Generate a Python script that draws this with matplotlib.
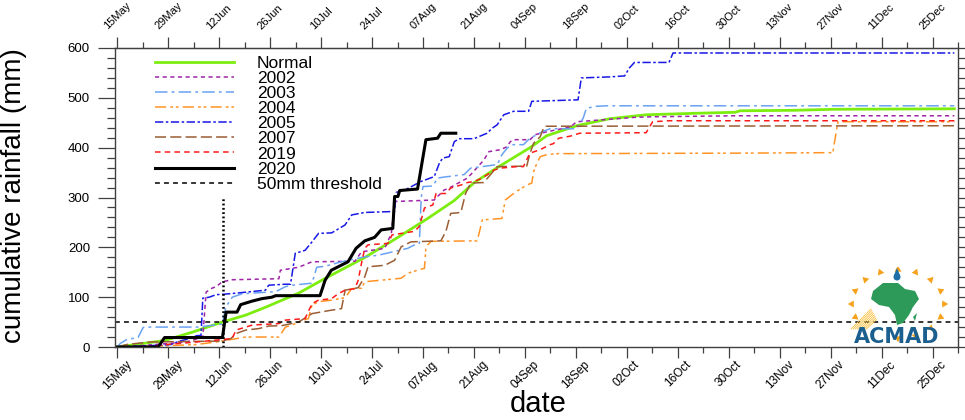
import numpy as np
import pandas as pd
import matplotlib
matplotlib.use('Agg')
import matplotlib.pyplot as plt
import matplotlib.dates as mdates
from matplotlib.patches import Polygon, Circle

plt.rcParams['font.family'] = ['Liberation Sans', 'DejaVu Sans']
plt.rcParams['lines.scale_dashes'] = False

BASE = pd.Timestamp('2020-05-15')

# ---------------- data (day offsets from 15 May, cumulative mm) ----------------
tick_labels = ['15May', '29May', '12Jun', '26Jun', '10Jul', '24Jul', '07Aug', '21Aug',
               '04Sep', '18Sep', '02Oct', '16Oct', '30Oct', '13Nov', '27Nov', '11Dec', '25Dec']
tick_days = [0, 14, 28, 42, 56, 70, 84, 98, 112, 126, 140, 154, 168, 182, 196, 210, 224]
y_ticks = [0, 100, 200, 300, 400, 500, 600]

normal_days = [0, 13, 20.7, 28.9, 35.3, 40.8, 49.8, 57.2, 68.1, 77.1, 85.3, 92.6, 98.1, 104.4,
               113.4, 118, 126.2, 135.2, 145.3, 158.9, 169.8, 171.1, 186.2, 197.1, 230]
normal_vals = [0, 13, 30, 50, 64, 80, 108, 138, 180, 220, 258, 294, 330, 360,
               400, 424, 444, 458, 466, 469, 471, 474, 475, 477, 478]

y2002_days = [0, 7, 19, 23.5, 24.4, 25.7, 27.1, 28.9, 31.6, 44.4, 44.8, 49.8, 53.5, 65.3, 67.1,
              73.5, 75.3, 76.2, 87.1, 88, 89.8, 91.2, 96.2, 97.5, 100.7, 102.1, 105.3, 107.1, 108,
              108.9, 113.4, 114.8, 117.5, 120.7, 124.4, 126.2, 133.5, 142.5, 147.1, 169.8, 230]
y2002_vals = [0, 3, 10, 20, 110, 117, 121, 131, 135, 137, 154, 160, 171, 172, 191,
              198, 228, 292, 295, 302, 315, 319, 339, 349, 375, 392, 396, 402, 412,
              416, 416, 426, 431, 436, 441, 452, 456, 461, 462, 464, 464]

y2003_days = [0, 0.8, 2.6, 5.7, 7.1, 8, 22.1, 28.9, 29.8, 31.6, 34.4, 43.5, 46.2, 48, 53.5, 54.8,
              57.1, 61.6, 68, 71.6, 79.8, 82.5, 83, 83.5, 84, 86.7, 88, 89.8, 95.3, 97.1, 104.4,
              105.7, 107.1, 108.5, 111.6, 113.4, 117.1, 118.9, 126.2, 128, 128.9, 131.6, 134.4, 230]
y2003_vals = [0, 7, 15, 19, 39, 40, 40, 46, 80, 100, 107, 111, 121, 124, 128, 160,
              162, 171, 181, 184, 198, 208, 208, 300, 322, 323, 339, 341, 346, 359, 366,
              386, 399, 406, 406, 419, 433, 438, 438, 459, 479, 483, 484, 484]

y2004_days = [0, 15, 21.7, 27.1, 35.3, 44.4, 46.2, 48, 49.8, 52.5, 53.5, 55.3, 58.9, 62.6, 64.4,
              67.1, 68, 75.3, 78, 79.8, 82.5, 84.4, 84.8, 86.2, 98.9, 100.3, 105.7, 106.6, 108.9,
              110.3, 112.5, 113.9, 114.4, 115.3, 116.2, 118, 120.7, 169.8, 196.6, 198, 230]
y2004_vals = [0, 3, 5, 10, 20, 20, 40, 44, 50, 57, 84, 91, 94, 99, 117,
              118, 131, 136, 138, 148, 154, 158, 201, 212, 213, 255, 258, 295, 308,
              315, 325, 329, 352, 369, 382, 386, 388, 389, 390, 452, 452]

y2005_days = [0, 10, 14.8, 17.1, 18.9, 20.3, 22.1, 23, 23.5, 25.3, 27.1, 29.4, 32.6, 40.7, 41.6,
              46.2, 47.6, 48.9, 51.6, 53.5, 55.3, 58.9, 62.6, 64.4, 68, 76.2, 76.6, 79.8, 83.4,
              87.1, 88.5, 89.4, 91.2, 92.6, 93.9, 98, 101.6, 103, 104.4, 106.2, 108.9, 113, 113.9,
              126.6, 127.5, 135.3, 139.4, 140.7, 142.1, 151.6, 152.7, 230]
y2005_vals = [0, 3, 5, 12, 15, 20, 23, 23, 98, 100, 105, 106, 108, 114, 124,
              126, 126, 188, 194, 211, 228, 229, 245, 265, 270, 272, 310, 318, 332,
              342, 369, 379, 382, 412, 418, 418, 429, 439, 446, 466, 473, 473, 493,
              496, 540, 542, 544, 560, 571, 571, 590, 590]

y2007_days = [0, 2.6, 8.9, 28.9, 31.2, 32.6, 35.3, 38.9, 41.6, 45.3, 49.8, 53.5, 58.9, 61.6, 62.6,
              66.2, 68, 68.9, 73.5, 76.2, 78, 80.7, 88.9, 90.3, 91.6, 94.4, 95.7, 97.1, 100.7,
              104.4, 112.5, 113.4, 114.4, 116.2, 117.1, 117.5, 230]
y2007_vals = [0, 5, 10, 12, 17, 27, 34, 37, 42, 43, 50, 67, 74, 77, 114,
              119, 141, 161, 164, 174, 201, 211, 213, 232, 268, 270, 308, 329, 330,
              362, 363, 389, 409, 422, 439, 443, 444]

y2019_days = [0, 8, 13.5, 21.7, 31.6, 32.6, 37.1, 44.4, 46.2, 51.6, 53.5, 55.3, 58.9, 60.7, 62.6,
              65.3, 66.2, 67.1, 68, 68.9, 74.4, 75.5, 81.6, 83, 84, 84.4, 86.7, 87.6, 90.3, 91.6,
              94.4, 96.2, 98, 100.3, 103.5, 105.3, 109.8, 111.6, 112.5, 113.4, 116.2, 118.9,
              119.8, 121.3, 124.4, 127.1, 145.3, 147.1, 151.6, 230]
y2019_vals = [0, 0, 5, 10, 17, 34, 44, 47, 54, 57, 87, 94, 97, 107, 114,
              117, 134, 168, 198, 205, 208, 225, 232, 242, 268, 279, 285, 308, 308, 319,
              325, 330, 332, 339, 355, 359, 362, 362, 376, 389, 396, 406,
              408, 419, 423, 429, 430, 452, 454, 454]

y2020_days = [0, 11.2, 13, 28.9, 29.9, 32.9, 33.9, 34.8, 37, 39.7, 42.5, 43.5, 55.7, 57.1, 58.8,
              61.5, 63.4, 65.6, 68, 70.7, 72.5, 75.7, 76.2, 77.1, 77.6, 82.5, 84.8, 88, 88.9, 93]
y2020_vals = [0, 0, 19, 19, 70, 70, 85, 87, 92, 97, 100, 103, 103, 134, 154,
              164, 171, 198, 213, 220, 235, 238, 302, 302, 314, 317, 416, 419, 429, 429]

threshold_mm = 50
onset_day = 29          # 13 Jun marker
onset_top = 300

def to_dates(days):
    return BASE + pd.to_timedelta(np.asarray(days, dtype=float), unit='D')

# ---------------- figure ----------------
fig = plt.figure(figsize=(9.65, 4.2), dpi=100)
ax = fig.add_axes([115 / 965, 73 / 420, 843 / 965, 299 / 420])

series = [
    ('Normal', normal_days, normal_vals, '#7ded10', 2.0, '-'),
    ('2002', y2002_days, y2002_vals, '#a024a8', 1.1, (0, (3, 2.5))),
    ('2003', y2003_days, y2003_vals, '#6aa2f2', 1.1, (0, (9, 3, 2, 3))),
    ('2004', y2004_days, y2004_vals, '#ff9424', 1.1, (0, (8, 3, 2, 2, 2, 3))),
    ('2005', y2005_days, y2005_vals, '#1818e6', 1.1, (0, (6, 1.8, 1.8, 1.8))),
    ('2007', y2007_days, y2007_vals, '#9a5e34', 1.1, (0, (8, 3))),
    ('2019', y2019_days, y2019_vals, '#ff1a1a', 1.1, (0, (4, 3))),
    ('2020', y2020_days, y2020_vals, '#000000', 2.2, '-'),
]
for label, d, v, c, lw, ls in series:
    ax.plot(to_dates(d), v, color=c, lw=lw, linestyle=ls, label=label)

ax.axhline(threshold_mm, color='black', lw=1.1, linestyle=(0, (3.5, 3)), label='50mm threshold')
ax.plot(to_dates([onset_day, onset_day]), [0, onset_top], color='black', lw=1.8,
        linestyle=(0, (1.3, 1.8)))

x0 = BASE + pd.Timedelta(days=-0.63)
x1 = BASE + pd.Timedelta(days=229.3)
ax.set_xlim(x0, x1)
ax.set_ylim(0, 600)

tick_pos = to_dates(tick_days)
minor_pos = to_dates([d + 7 for d in tick_days])
ax.set_xticks(tick_pos)
ax.set_xticklabels(tick_labels)
ax.set_xticks(minor_pos, minor=True)
ax.set_yticks(y_ticks)
ax.set_yticks(np.arange(0, 601, 20), minor=True)

frame_c = '#404040'
for s in ax.spines.values():
    s.set_color(frame_c)
    s.set_linewidth(1.0)

ax.tick_params(axis='x', which='major', length=8, width=0.9, color=frame_c, direction='out',
               labelsize=8.5, labelrotation=45, pad=0.5)
ax.tick_params(axis='x', which='minor', length=4, width=0.9, color=frame_c, direction='out')
ax.tick_params(axis='y', which='major', length=12, width=0.9, color=frame_c, direction='out',
               labelsize=9.5, pad=6, right=True)
ax.tick_params(axis='y', which='minor', length=6, width=0.9, color=frame_c, direction='out',
               right=True)
for lbl in ax.get_xticklabels():
    lbl.set_ha('center')

sec = ax.secondary_xaxis('top')
sec.set_xticks(mdates.date2num(tick_pos))
sec.set_xticklabels(tick_labels)
sec.set_xticks(mdates.date2num(minor_pos), minor=True)
sec.spines['top'].set_color(frame_c)
sec.tick_params(axis='x', which='major', length=8, width=0.9, color=frame_c, direction='out',
                labelsize=8, labelrotation=45, pad=4)
sec.tick_params(axis='x', which='minor', length=4, width=0.9, color=frame_c, direction='out')
for lbl in sec.get_xticklabels():
    lbl.set_ha('center')

ax.set_ylabel('cumulative rainfall (mm)', fontsize=20)
ax.yaxis.set_label_coords(-0.104, 0.505)
ax.set_xlabel('date', fontsize=21)
ax.xaxis.set_label_coords(0.502, -0.145)

leg = ax.legend(loc='upper left', bbox_to_anchor=(0.047, 0.975), frameon=False, fontsize=12.5,
                handlelength=4.6, handletextpad=1.3, labelspacing=0.0, borderpad=0,
                borderaxespad=0)

# ---------------- ACMAD logo (approximation) ----------------
lax = fig.add_axes([843 / 965, (420 - 343) / 420, 109 / 965, 76 / 420])
lax.set_xlim(0, 109)
lax.set_ylim(0, 76)
lax.axis('off')
cx, cy = 55, 39
for ang in np.linspace(0, 2 * np.pi, 16, endpoint=False):
    if 3.6 < ang < 4.5:
        continue
    r = 34
    px, py = cx + r * np.cos(ang) * 1.3, cy + r * np.sin(ang) * 0.95
    tri = Polygon([[px + 6 * np.cos(ang), py + 6 * np.sin(ang)],
                   [px - 3.5 * np.sin(ang), py + 3.5 * np.cos(ang)],
                   [px + 3.5 * np.sin(ang), py - 3.5 * np.cos(ang)]], closed=True,
                  color='#f7a21b', lw=0)
    lax.add_patch(tri)
for k in range(8):
    lax.plot([8 + k * 2.2, 28 + k * 0.8], [14, 34 - k * 1.5], color='#f8c040', lw=0.6)
africa = Polygon([[30, 52], [40, 60], [55, 60], [62, 54], [72, 52], [76, 44], [70, 36],
                  [66, 28], [60, 20], [54, 18], [52, 28], [46, 36], [36, 38], [28, 44]],
                 closed=True, color='#2e9a5a', lw=0)
lax.add_patch(africa)
lax.add_patch(Polygon([[70, 26], [74, 30], [72, 22]], closed=True, color='#2e9a5a', lw=0))
lax.add_patch(Circle((54, 66), 3.5, color='#1e6fa8', lw=0))
lax.add_patch(Polygon([[50.8, 67.3], [57.2, 67.3], [54, 75]], closed=True, color='#1e6fa8', lw=0))
lax.text(54, 6, 'ACMAD', ha='center', va='center', fontsize=15, fontweight='bold',
         color='#1b5f8f', family=['DejaVu Sans'])

fig.savefig('out.png', dpi=100)
